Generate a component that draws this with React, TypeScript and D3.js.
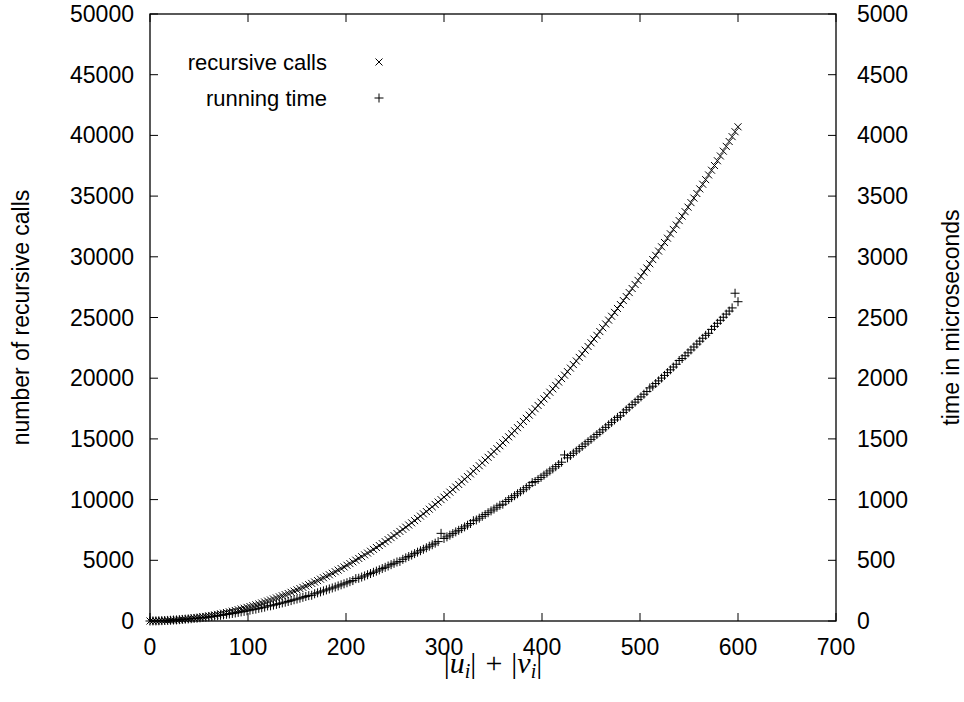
import React, { useEffect } from "react";
import * as d3 from "d3";

// x values: |u_i| + |v_i|
const sizes = [0,3,6,9,12,15,18,21,24,27,30,33,36,39,42,45,48,51,54,57,60,63,66,69,72,75,78,81,84,87,90,93,96,99,102,105,108,111,114,117,120,123,126,129,132,135,138,141,144,147,150,153,156,159,162,165,168,171,174,177,180,183,186,189,192,195,198,201,204,207,210,213,216,219,222,225,228,231,234,237,240,243,246,249,252,255,258,261,264,267,270,273,276,279,282,285,288,291,294,297,300,303,306,309,312,315,318,321,324,327,330,333,336,339,342,345,348,351,354,357,360,363,366,369,372,375,378,381,384,387,390,393,396,399,402,405,408,411,414,417,420,423,426,429,432,435,438,441,444,447,450,453,456,459,462,465,468,471,474,477,480,483,486,489,492,495,498,501,504,507,510,513,516,519,522,525,528,531,534,537,540,543,546,549,552,555,558,561,564,567,570,573,576,579,582,585,588,591,594,597,600];

// number of recursive calls (left axis)
const recursiveCalls = [0,2,5,11,18,28,40,53,69,87,107,128,152,178,206,236,268,302,338,376,416,458,502,549,597,647,699,754,810,868,929,991,1056,1122,1191,1261,1334,1408,1485,1564,1644,1727,1812,1899,1987,2078,2171,2266,2363,2462,2563,2666,2771,2878,2987,3099,3212,3327,3444,3563,3685,3808,3933,4061,4190,4322,4455,4591,4728,4868,5010,5153,5299,5447,5596,5748,5902,6058,6216,6375,6537,6701,6867,7035,7205,7377,7551,7728,7906,8086,8268,8452,8639,8827,9017,9210,9404,9601,9799,9999,10202,10407,10613,10822,11032,11245,11460,11677,11895,12116,12339,12564,12791,13020,13251,13484,13719,13956,14195,14436,14679,14924,15171,15420,15672,15925,16180,16438,16697,16958,17222,17487,17755,18024,18296,18570,18845,19123,19403,19684,19968,20254,20542,20831,21123,21417,21713,22011,22311,22613,22917,23223,23531,23841,24154,24468,24784,25102,25423,25745,26069,26396,26724,27054,27387,27721,28058,28396,28737,29080,29424,29771,30120,30470,30823,31178,31535,31894,32255,32618,32983,33350,33719,34090,34463,34838,35215,35594,35975,36358,36744,37131,37520,37912,38305,38701,39098,39497,39899,40302,40708];

// running time in microseconds (right axis)
const runningTime = [0,1,1,2,3,4,5,6,8,9,11,13,15,17,19,21,23,26,29,31,34,37,41,44,47,51,55,58,62,66,71,75,79,84,89,94,98,104,109,114,124,125,131,137,143,149,155,161,168,175,181,188,195,202,209,212,224,232,240,248,256,264,272,280,289,298,306,315,324,333,349,352,362,371,381,391,401,411,421,432,442,453,464,475,486,491,508,520,531,543,555,567,579,591,603,616,628,641,654,722,680,693,707,720,734,747,761,775,789,803,826,832,847,862,877,892,907,922,937,953,962,984,1000,1016,1032,1048,1065,1081,1098,1115,1140,1149,1166,1183,1201,1218,1236,1253,1271,1289,1308,1368,1344,1363,1382,1400,1419,1438,1458,1477,1496,1516,1536,1555,1575,1595,1616,1636,1656,1677,1690,1718,1739,1760,1782,1803,1825,1846,1868,1890,1920,1934,1956,1978,2001,2023,2046,2069,2092,2115,2146,2162,2185,2209,2233,2257,2281,2305,2329,2353,2370,2402,2427,2452,2477,2502,2528,2553,2579,2700,2630];

const xTicks = [0, 100, 200, 300, 400, 500, 600, 700];
const leftTicks = [0, 5000, 10000, 15000, 20000, 25000, 30000, 35000, 40000, 45000, 50000];
const rightTicks = [0, 500, 1000, 1500, 2000, 2500, 3000, 3500, 4000, 4500, 5000];

const W = 964, H = 702;
const L = 150, R = 836, T = 14, B = 621;
const FONT = "'Liberation Sans', Arial, Helvetica, sans-serif";

export default function App() {
  useEffect(() => {
    document.body.style.margin = "0";
  }, []);

  const x = d3.scaleLinear().domain([0, 700]).range([L, R]);
  const yL = d3.scaleLinear().domain([0, 50000]).range([B, T]);
  const yR = d3.scaleLinear().domain([0, 5000]).range([B, T]);
  const tk = 8;
  const n = Math.min(sizes.length, recursiveCalls.length, runningTime.length);
  const idx = d3.range(n);

  const cross = (cx: number, cy: number, k: string) => (
    <path key={k} d={`M${cx - 3.5},${cy - 3.5}L${cx + 3.5},${cy + 3.5}M${cx - 3.5},${cy + 3.5}L${cx + 3.5},${cy - 3.5}`} stroke="#000" strokeWidth={1} fill="none" />
  );
  const plus = (cx: number, cy: number, k: string) => (
    <path key={k} d={`M${cx - 4.5},${cy}L${cx + 4.5},${cy}M${cx},${cy - 4.5}L${cx},${cy + 4.5}`} stroke="#000" strokeWidth={1} fill="none" />
  );

  return (
    <svg width={W} height={H} style={{ display: "block", background: "#fff" }} fontFamily={FONT}>
      <rect x={0} y={0} width={W} height={H} fill="#fff" />
      {/* ticks */}
      <g stroke="#000" strokeWidth={1}>
        {xTicks.map((t) => (
          <g key={"xt" + t}>
            <line x1={x(t)} x2={x(t)} y1={B} y2={B - tk} />
            <line x1={x(t)} x2={x(t)} y1={T} y2={T + tk} />
          </g>
        ))}
        {leftTicks.map((t) => (
          <line key={"lt" + t} x1={L} x2={L + tk} y1={yL(t)} y2={yL(t)} />
        ))}
        {rightTicks.map((t) => (
          <line key={"rt" + t} x1={R} x2={R - tk} y1={yR(t)} y2={yR(t)} />
        ))}
      </g>
      {/* tick labels */}
      <g fontSize={23} fill="#000">
        {xTicks.map((t) => (
          <text key={"xl" + t} x={x(t)} y={655} textAnchor="middle">{t}</text>
        ))}
        {leftTicks.map((t) => (
          <text key={"ll" + t} x={134} y={yL(t) + 8} textAnchor="end">{t}</text>
        ))}
        {rightTicks.map((t) => (
          <text key={"rl" + t} x={857} y={yR(t) + 8} textAnchor="start">{t}</text>
        ))}
      </g>
      {/* axis titles */}
      <text fontSize={23} transform={`translate(29,${(T + B) / 2}) rotate(-90)`} textAnchor="middle">number of recursive calls</text>
      <text fontSize={23} transform={`translate(959,${(T + B) / 2}) rotate(-90)`} textAnchor="middle">time in microseconds</text>
      <text x={493} y={673} textAnchor="middle" fontFamily="'Liberation Serif', 'Times New Roman', serif" fontSize={30}>
        |<tspan fontStyle="italic">u</tspan><tspan fontStyle="italic" fontSize={20} dy={5}>i</tspan><tspan dy={-5}>|</tspan><tspan dx={9}>+</tspan><tspan dx={9}>|</tspan><tspan fontStyle="italic">v</tspan><tspan fontStyle="italic" fontSize={20} dy={5}>i</tspan><tspan dy={-5}>|</tspan>
      </text>
      {/* data */}
      <g>
        {idx.map((i) => cross(x(sizes[i]), yL(recursiveCalls[i]), "r" + i))}
        {idx.map((i) => plus(x(sizes[i]), yR(runningTime[i]), "t" + i))}
      </g>
      {/* legend */}
      <text x={327} y={70} fontSize={22} textAnchor="end">recursive calls</text>
      {cross(379, 62, "legr")}
      <text x={327} y={106} fontSize={22} textAnchor="end">running time</text>
      {plus(379, 98, "legt")}
      {/* frame */}
      <rect x={L} y={T} width={R - L} height={B - T} fill="none" stroke="#000" strokeWidth={1.3} />
    </svg>
  );
}
